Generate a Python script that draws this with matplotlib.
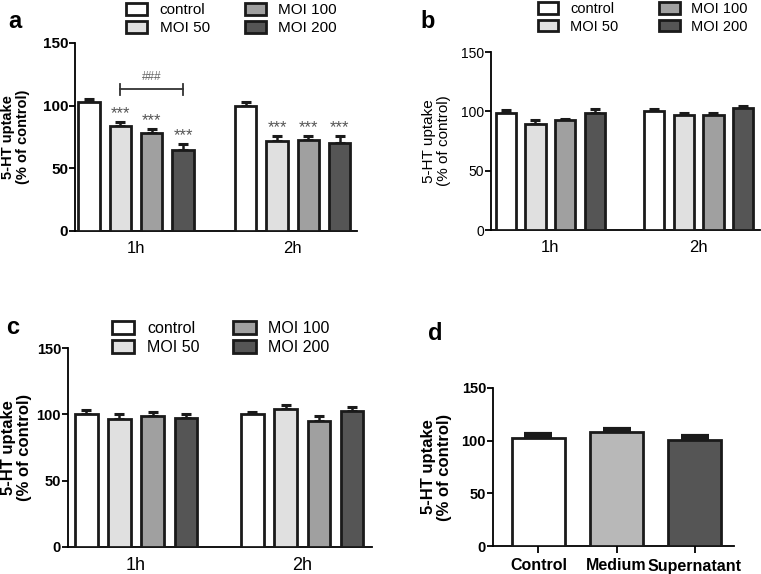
import matplotlib
matplotlib.use("Agg")
import matplotlib.pyplot as plt
import numpy as np
from matplotlib.patches import Patch

plt.rcParams['font.family'] = ['Liberation Sans', 'DejaVu Sans']

# data
groups = ["1h", "2h"]
series = ["control", "MOI 50", "MOI 100", "MOI 200"]
series_colors = ["#ffffff", "#e0e0e0", "#a0a0a0", "#555555"]

a_1h = [103, 84, 78.5, 65]
a_1h_err = [2, 3, 2.5, 4.5]
a_2h = [100, 71.5, 72.5, 70.5]
a_2h_err = [3, 4, 3, 5]
a_stars = ["", "***", "***", "***", "", "***", "***", "***"]

b_1h = [98.3, 89.5, 92.5, 98.3]
b_1h_err = [2.8, 3, 1, 3.4]
b_2h = [100.3, 96.8, 96.8, 103]
b_2h_err = [1.4, 2, 2, 1.8]

c_1h = [100.5, 96.5, 98.5, 97.5]
c_1h_err = [3, 3.5, 3, 3]
c_2h = [100, 104, 95, 102.5]
c_2h_err = [2, 3.2, 3.5, 3]

d_labels = ["Control", "Medium", "Supernatant"]
d_values = [103, 108, 101]
d_err = [3.5, 3.2, 3.2]
d_colors = ["#ffffff", "#b8b8b8", "#555555"]

W, H = 761, 574
fig = plt.figure(figsize=(W / 100, H / 100), dpi=100)


def px_axes(left, top, right, bottom):
    return fig.add_axes([left / W, 1 - bottom / H, (right - left) / W, (bottom - top) / H])


def style_axes(ax, bold=True, tick_size=10):
    ax.spines['top'].set_visible(False)
    ax.spines['right'].set_visible(False)
    ax.spines['left'].set_linewidth(1.3)
    ax.spines['bottom'].set_linewidth(1.3)
    ax.set_ylim(0, 150)
    ax.set_yticks([0, 50, 100, 150])
    ax.tick_params(axis='y', direction='out', length=4, width=1.3, labelsize=tick_size, pad=1)
    for t in ax.get_yticklabels():
        t.set_fontweight('bold' if bold else 'normal')


def grouped_panel(ax, v1, e1, v2, e2, xlim, bold=True, tick_size=10, label_size=10.5, xlabel_size=12, capsize=3.5):
    xpos = np.array([0, 1, 2, 3, 5, 6, 7, 8])
    vals = np.array(v1 + v2)
    errs = np.array(e1 + e2)
    cols = series_colors * 2
    ax.bar(xpos, vals, width=0.68, color=cols, edgecolor='#1a1a1a', linewidth=2, zorder=3)
    ax.errorbar(xpos, vals, yerr=[np.zeros(len(errs)), errs], fmt='none', ecolor='#1a1a1a',
                elinewidth=1.8, capsize=capsize, capthick=2.2, zorder=2)
    ax.set_xlim(*xlim)
    ax.set_xticks([1.5, 6.5])
    ax.set_xticklabels(groups, fontsize=xlabel_size)
    ax.tick_params(axis='x', length=0, pad=7)
    style_axes(ax, bold, tick_size)
    ax.set_ylabel("5-HT uptake\n(% of control)", fontsize=label_size,
                  fontweight='bold' if bold else 'normal', linespacing=1.1)
    return xpos, vals, errs


def add_legend(ax, left_px, top_px, fontsize, colspacing):
    handles = [Patch(facecolor=c, edgecolor='#1a1a1a', linewidth=2) for c in series_colors]
    ax.legend(handles, series, ncol=2, frameon=False, fontsize=fontsize,
              loc='upper left', bbox_to_anchor=(left_px / W, 1 - top_px / H),
              bbox_transform=fig.transFigure, borderpad=0, borderaxespad=0,
              handlelength=1.4, handleheight=0.8, handletextpad=0.8,
              columnspacing=colspacing, labelspacing=0.25)


# panel a
ax_a = px_axes(75, 43, 357, 231)
xa, va, ea = grouped_panel(ax_a, a_1h, a_1h_err, a_2h, a_2h_err, (-0.45, 8.55), tick_size=11)
ax_a.yaxis.labelpad = 9
for x, v, e, s in zip(xa, va, ea, a_stars):
    if s:
        ax_a.text(x, v + e + 1, s, ha='center', va='bottom', fontsize=12, color='#555555')
ax_a.plot([1, 3], [113, 113], color='#333333', linewidth=1.3)
ax_a.plot([1, 1], [108.5, 117.5], color='#333333', linewidth=1.3)
ax_a.plot([3, 3], [108.5, 117.5], color='#333333', linewidth=1.3)
ax_a.text(2, 118, "###", ha='center', va='bottom', fontsize=8.5, color='#666666')
add_legend(ax_a, 126, 3, 11, 2.3)
fig.text(8 / W, 1 - 22 / H, "a", fontsize=17, fontweight='bold', va='center', ha='left')

# panel b
ax_b = px_axes(491, 52, 760, 230)
grouped_panel(ax_b, b_1h, b_1h_err, b_2h, b_2h_err, (-0.5, 8.57), bold=False,
              tick_size=10, label_size=11)
ax_b.yaxis.labelpad = 7
add_legend(ax_b, 538, 2, 10.5, 2.8)
fig.text(420 / W, 1 - 22 / H, "b", fontsize=17, fontweight='bold', va='center', ha='left')

# panel c
ax_c = px_axes(68, 348, 372, 547)
grouped_panel(ax_c, c_1h, c_1h_err, c_2h, c_2h_err, (-0.55, 8.6), tick_size=10.5,
              label_size=12, xlabel_size=13)
ax_c.yaxis.labelpad = 3
add_legend(ax_c, 112, 321, 11.5, 2.1)
fig.text(6 / W, 1 - 327 / H, "c", fontsize=17, fontweight='bold', va='center', ha='left')

# panel d
ax_d = px_axes(493, 388, 734, 546)
xd = np.arange(len(d_values))
ax_d.bar(xd, d_values, width=0.68, color=d_colors, edgecolor='#1a1a1a', linewidth=2, zorder=3)
ax_d.errorbar(xd, d_values, yerr=[np.zeros(len(d_err)), d_err], fmt='none', ecolor='#1a1a1a',
              elinewidth=3, capsize=10, capthick=3, zorder=2)
ax_d.set_xlim(-0.58, 2.5)
ax_d.set_xticks(xd)
ax_d.set_xticklabels(d_labels, fontsize=11.5, fontweight='bold')
ax_d.tick_params(axis='x', direction='out', length=5, width=1.3, pad=4)
style_axes(ax_d, True, 10.5)
ax_d.set_ylabel("5-HT uptake\n(% of control)", fontsize=12, fontweight='bold', linespacing=1.1)
ax_d.yaxis.labelpad = 7
fig.text(428 / W, 1 - 333 / H, "d", fontsize=17, fontweight='bold', va='center', ha='left')

fig.savefig("out.png", dpi=100)
